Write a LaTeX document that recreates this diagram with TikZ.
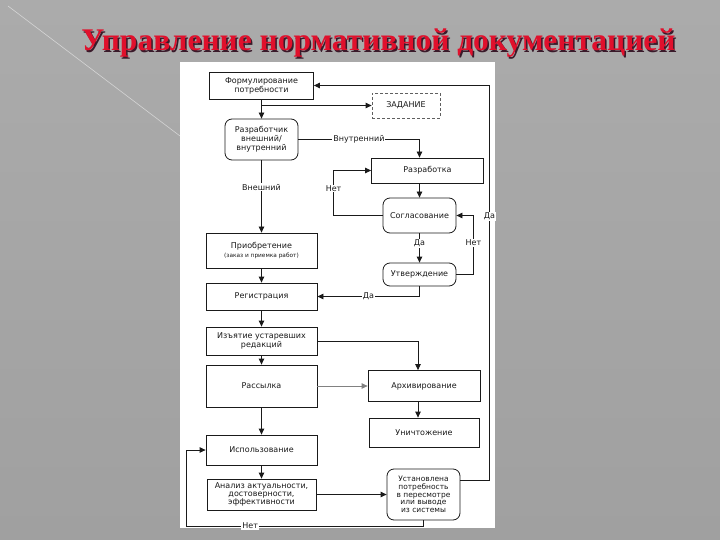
\documentclass[tikz,border=0pt]{standalone}
\usepackage{fontspec}
\setmainfont{DejaVu Sans}
\newfontfamily\titlefont{Liberation Serif}
\usetikzlibrary{arrows.meta}

\definecolor{slidegray}{HTML}{A0A0A0}
\definecolor{slidelight}{HTML}{ABABAB}
\definecolor{titlered}{HTML}{E0102C}
\definecolor{titleshade}{HTML}{3A1A2A}
\definecolor{ink}{HTML}{1A1A1A}

\begin{document}
\begin{tikzpicture}[x=1pt, y=-1pt,
  box/.style={draw=ink, line width=0.8pt, align=center, inner sep=1pt, text=ink,
    font=\fontsize{8}{9}\selectfont},
  rbox/.style={box, rounded corners=7pt},
  lbl/.style={fill=white, inner sep=1pt, text=ink, font=\fontsize{8}{9}\selectfont},
  flow/.style={draw=ink, line width=0.8pt, -{Triangle[length=6pt,width=5.5pt]}}]

\useasboundingbox (0,0) rectangle (720,540);
\shade[top color=slidelight, bottom color=slidegray] (0,0) rectangle (720,540);
\draw[white, opacity=0.5, line width=0.6pt] (8,6) -- (180,136);

% title
\node[font=\titlefont\bfseries\fontsize{31.5}{34}\selectfont, text=titleshade] (titleshadow) at (380,45) {Управление нормативной документацией};
\node[font=\titlefont\bfseries\fontsize{31.5}{34}\selectfont, text=titlered] (title) at (378.5,43.5) {Управление нормативной документацией};

% scanned page
\fill[white] (180,62) rectangle (495,528);

% left column
\node[box, minimum width=104pt, minimum height=27pt] (form) at (261.5,85.5) {Формулирование\\потребности};
\node[rbox, minimum width=73pt, minimum height=41pt] (dev) at (261.5,139.5) {Разработчик\\внешний/\\внутренний};
\node[box, minimum width=111pt, minimum height=35pt] (buy) at (261.5,250.5) {Приобретение\\{\fontsize{5.8}{7}\selectfont (заказ и приемка работ)}};
\node[box, minimum width=111pt, minimum height=27pt] (reg) at (261.5,296.5) {Регистрация};
\node[box, minimum width=111pt, minimum height=28pt] (withdraw) at (261.5,341) {Изъятие устаревших\\редакций};
\node[box, minimum width=111pt, minimum height=42pt] (send) at (261.5,386) {Рассылка};
\node[box, minimum width=111pt, minimum height=30pt] (use) at (261.5,450) {Использование};
\node[box, minimum width=109pt, minimum height=31pt, font=\fontsize{8}{7.8}\selectfont] (anal) at (261.5,494.5) {Анализ актуальности,\\достоверности,\\эффективности};

% right column
\node[box, draw=ink!70, densely dashed, minimum width=68pt, minimum height=25pt] (task) at (406,105.5) {ЗАДАНИЕ};
\node[box, minimum width=112pt, minimum height=25pt] (devel) at (427.5,170.5) {Разработка};
\node[rbox, minimum width=73pt, minimum height=35pt] (agree) at (419.5,215.5) {Согласование};
\node[rbox, minimum width=73pt, minimum height=23pt] (approve) at (419.5,274.5) {Утверждение};
\node[box, minimum width=112pt, minimum height=31pt] (arch) at (424,386) {Архивирование};
\node[box, minimum width=110pt, minimum height=29pt] (destroy) at (424,432.5) {Уничтожение};
\node[rbox, minimum width=73pt, minimum height=51pt, font=\fontsize{7.5}{7.8}\selectfont] (need) at (423.5,494.5) {Установлена\\потребность\\в пересмотре\\или выводе\\из системы};

\coordinate (loopL) at (186,526);

% connectors
\draw[flow] (form) -- (dev);
\draw[flow] (form.south |- task.west) -- (task.west);
\draw[flow] (dev.east) -| node[lbl, pos=0.25] {Внутренний} ([xshift=-8pt]devel.north);
\draw[flow] ([xshift=-8pt]devel.south) -- (agree.north);
\draw[flow] (agree.west) -- ++(-49,0) |- node[lbl, pos=0.3] {Нет} (devel.west);
\draw[flow] (agree.south) -- node[lbl, pos=0.35] {Да} (approve.north);
\draw[flow] (approve.east) -- ++(17,0) |- node[lbl, pos=0.27] {Нет} (agree.east);
\draw[flow] (approve.south) |- node[lbl, pos=0.75] {Да} (reg.east);
\draw[flow] (dev.south) -- node[lbl, pos=0.37] {Внешний} (buy.north);
\draw[flow] (buy) -- (reg);
\draw[flow] (reg) -- (withdraw);
\draw[flow] (withdraw) -- (send);
\draw[flow] (send) -- (use);
\draw[flow] (use) -- (anal);
\draw[flow] (withdraw.east) -| ([xshift=-6pt]arch.north);
\draw[flow, draw=ink!55] (send.east) -- (arch.west);
\draw[flow] ([xshift=-6pt]arch.south) -- ([xshift=-6pt]destroy.north);
\draw[flow] (anal.east) -- (need.west);
\draw[flow] (need.south) |- node[lbl, pos=0.865] {Нет} (loopL) |- (use.west);
\draw[flow] ([yshift=14.5pt]need.east) -- ++(29,0) |- node[lbl, pos=0.334] {Да} (form.east);
\end{tikzpicture}
\end{document}
